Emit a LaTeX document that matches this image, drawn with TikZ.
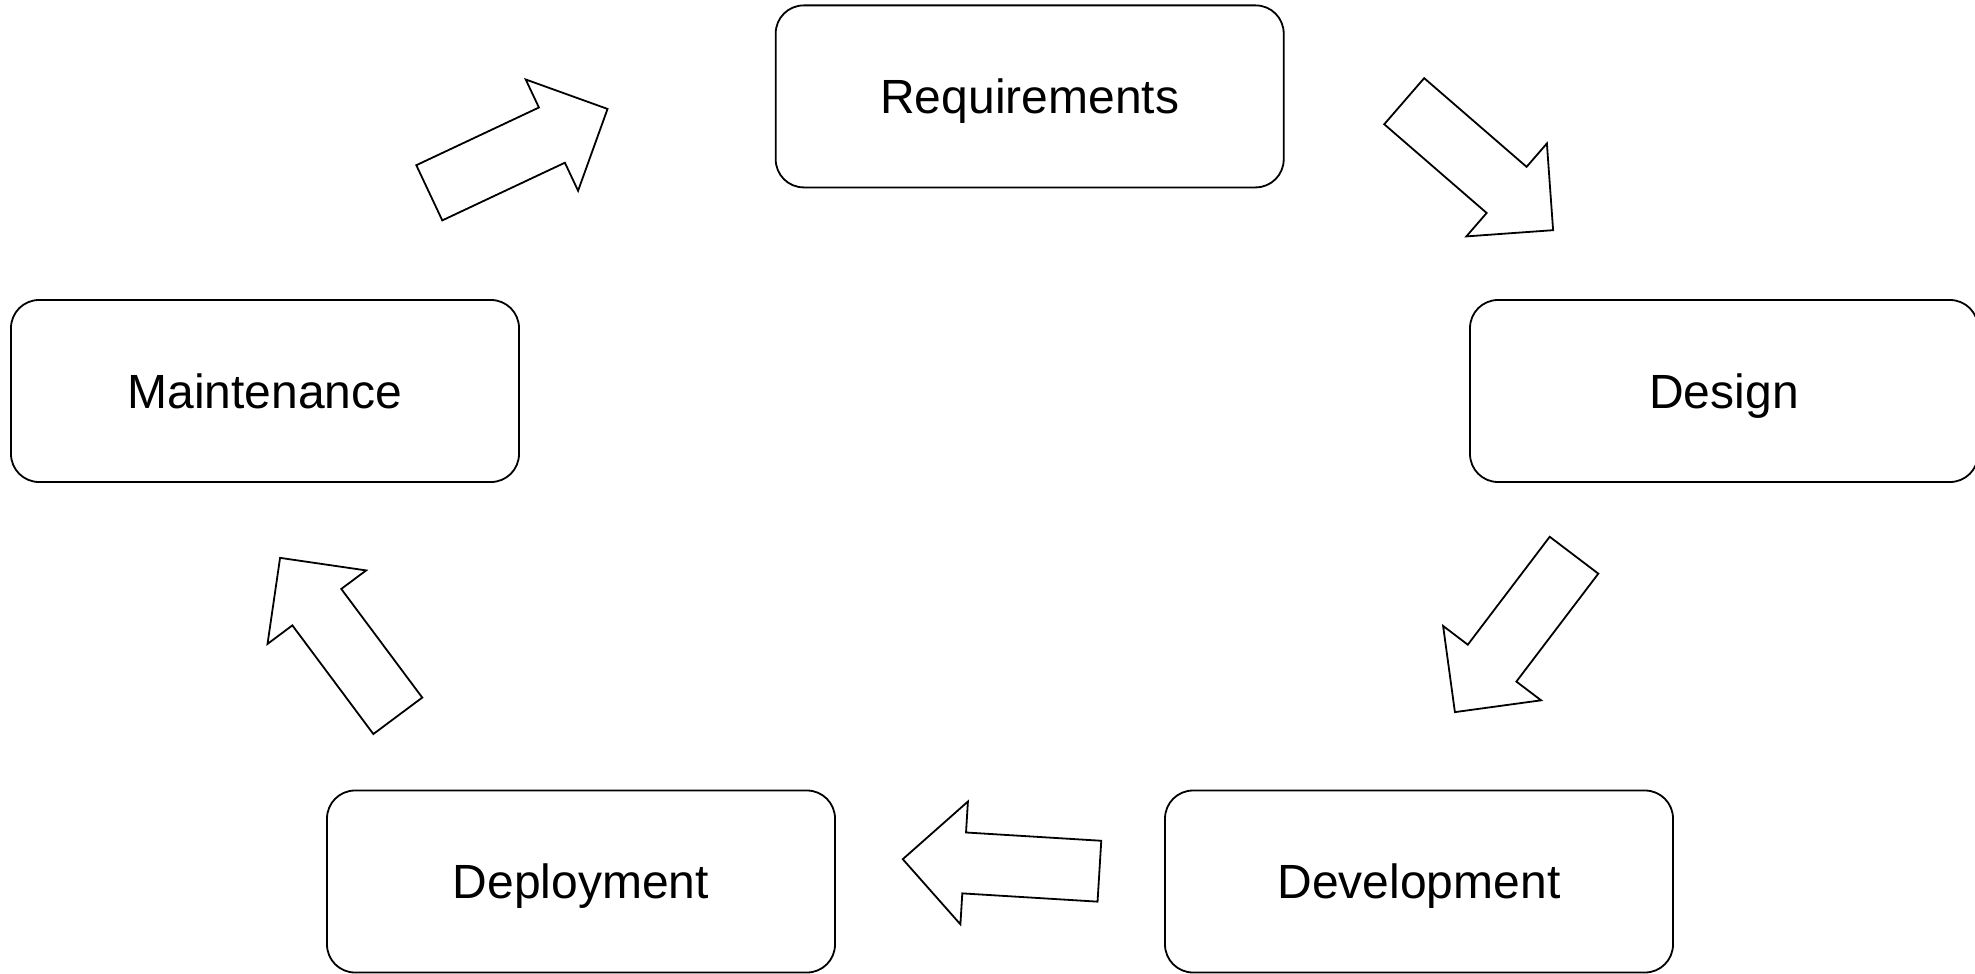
\documentclass[tikz,border=0pt]{standalone}
\usepackage{fontspec}
\setmainfont{Liberation Sans}
\begin{document}
\begin{tikzpicture}[x=1pt,y=-1pt,
  phase/.style={draw=black, line width=1.8pt, rounded corners=28pt,
    minimum width=508pt, minimum height=182pt, inner sep=0pt,
    text depth=0pt, font=\fontsize{48}{56}\selectfont},
  outline/.style={draw=black, fill=white, line width=1.8pt, line join=miter},
  blockarrow/.pic={
    \path[outline] (0,-30.5) -- (135.5,-30.5) -- (135.5,-61.5) -- (197,0)
      -- (135.5,61.5) -- (135.5,30.5) -- (0,30.5) -- cycle;
  }]
\useasboundingbox (0,0) rectangle (1975,974);

% lifecycle phases
\node[phase] (req) at (1029.7,96.4) {Requirements};
\node[phase] (des) at (1724,391) {Design};
\node[phase] (dev) at (1419,881.5) {Development};
\node[phase] (dep) at (581,881.5) {Deployment};
\node[phase] (mnt) at (265,391) {Maintenance};

% block arrows between phases (tail centre, direction)
\coordinate (a1) at (429.3,192.8);
\coordinate (a2) at (1404.2,101.2);
\coordinate (a3) at (1574,555.2);
\coordinate (a4) at (1099.4,871.2);
\coordinate (a5) at (397.8,715.8);
\pic[rotate=25.2] at (a1) {blockarrow};
\pic[rotate=-40.9] at (a2) {blockarrow};
\pic[rotate=-127.2] at (a3) {blockarrow};
\pic[rotate=176.5] at (a4) {blockarrow};
\pic[rotate=126.7] at (a5) {blockarrow};
\end{tikzpicture}
\end{document}
